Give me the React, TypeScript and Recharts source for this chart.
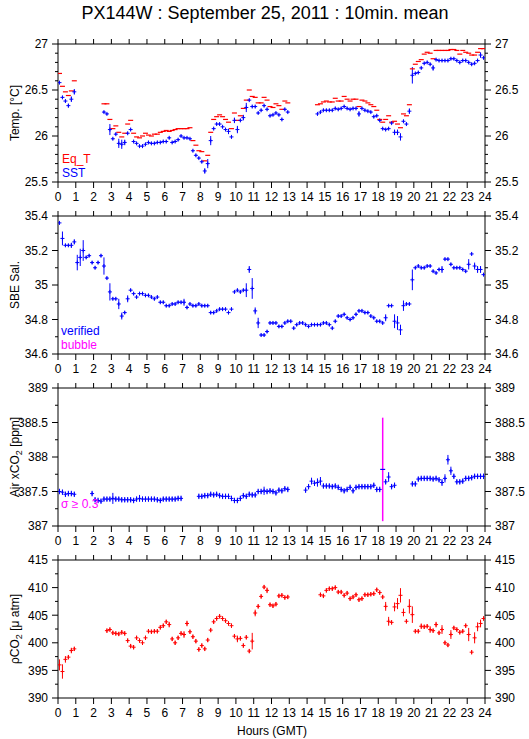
import React from 'react';
import { ScatterChart, Scatter, XAxis, YAxis, ErrorBar } from 'recharts';

const FONT = '"Liberation Sans", Arial, Helvetica, sans-serif';
const BLUE = '#0000ff';
const RED = '#ff0000';
const MAGENTA = '#ff00ff';

const HOURS = [0, 1, 2, 3, 4, 5, 6, 7, 8, 9, 10, 11, 12, 13, 14, 15, 16, 17, 18, 19, 20, 21, 22, 23, 24];

// 10 min means, slot i = hour i/6 .. (i+1)/6, null = no data
const SST = [
  26.58, 26.42, 26.38, 26.33, 26.40, 26.48, null, null, null, null, null, null,
  null, null, null, 26.26, 26.24, 26.07, 25.97, 26.02, 25.92, 25.91, 25.93, 26.03,
  26.07, 25.94, 25.92, 25.89, 25.89, 25.91, 25.93, 25.92, 25.92, 25.93, 25.93, 25.94,
  25.94, 25.98, 25.93, 25.94, 25.96, 26.00, 25.98, 25.98, 25.97, 25.84, 25.79, 25.76,
  25.72, 25.62, 25.70, 25.95, 26.08, 26.13, 26.13, 26.10, 26.07, 26.05, 25.99, 26.17,
  26.07, 26.17, 26.20, 26.31, 26.39, 26.32, 26.32, 26.25, 26.28, 26.33, 26.29, 26.22,
  26.23, 26.25, 26.23, 26.18, 26.29, 26.26, null, null, null, null, null, null,
  null, null, null, 26.24, 26.26, 26.28, 26.28, 26.28, 26.28, 26.30, 26.29, 26.30,
  26.32, 26.30, 26.29, 26.30, 26.30, 26.24, 26.30, 26.28, 26.27, 26.26, 26.21, 26.22,
  26.17, 26.08, 26.07, 26.08, 26.14, 26.04, 26.04, 25.99, 26.16, 26.13, 26.27, 26.66,
  26.68, 26.69, 26.74, 26.79, 26.80, 26.78, 26.74, 26.83, 26.82, 26.82, 26.82, 26.82,
  26.84, 26.84, 26.82, 26.80, 26.82, 26.82, 26.80, 26.78, 26.79, 26.82, 26.88, 26.85,
];
const SST_ERR: Record<number, number> = {
  3: 0.02, 4: 0.03, 5: 0.03, 17: 0.06, 20: 0.05, 21: 0.05, 22: 0.03, 49: 0.03, 50: 0.05, 51: 0.05,
  57: 0.03, 59: 0.03, 60: 0.04, 62: 0.03, 63: 0.05, 101: 0.03, 113: 0.03, 114: 0.03, 115: 0.04,
  118: 0.03, 119: 0.09, 126: 0.03, 142: 0.03,
};

const EQ_T = [
  26.68, 26.54, 26.48, 26.44, 26.49, 26.60, null, null, null, null, null, null,
  null, null, null, 26.35, 26.35, 26.18, 26.08, 26.11, 26.04, 25.99, 26.03, 26.13,
  26.17, 26.03, 25.99, 25.98, 26.00, 26.03, 26.01, 26.00, 26.02, 26.02, 26.04, 26.05,
  26.06, 26.05, 26.06, 26.07, 26.08, 26.08, 26.08, 26.08, 26.09, 25.95, 25.90, 25.84,
  25.83, 25.73, 25.79, 26.04, 26.18, 26.21, 26.23, 26.21, 26.18, 26.15, 26.08, 26.25,
  26.17, 26.22, 26.30, 26.39, 26.50, 26.43, 26.42, 26.36, 26.36, 26.42, 26.39, 26.32,
  26.31, 26.35, 26.33, 26.29, 26.38, 26.36, null, null, null, null, null, null,
  null, null, null, 26.34, 26.35, 26.37, 26.38, 26.37, 26.37, 26.41, 26.38, 26.38,
  26.43, 26.40, 26.38, 26.40, 26.40, 26.32, 26.39, 26.38, 26.36, 26.34, 26.32, 26.28,
  26.18, 26.15, 26.18, 26.22, 26.15, 26.16, 26.13, 26.09, 26.24, 26.22, 26.34, 26.73,
  26.78, 26.81, 26.83, 26.89, 26.91, 26.90, 26.84, 26.93, 26.93, 26.93, 26.93, 26.93,
  26.94, 26.94, 26.93, 26.89, 26.93, 26.91, 26.90, 26.88, 26.88, 26.91, 26.95, 26.95,
];

const SAL = [
  35.36, 35.27, 35.23, 35.23, 35.23, 35.25, 35.13, 35.16, 35.20, 35.16, 35.17, 35.13,
  35.10, 35.13, 35.17, 35.11, 35.04, 34.96, 34.92, 34.92, 34.89, 34.82, 34.84, 34.92,
  34.97, 34.95, 34.93, 34.95, 34.95, 34.94, 34.94, 34.93, 34.92, 34.93, 34.90, 34.90,
  34.88, 34.88, 34.89, 34.89, 34.90, 34.90, 34.90, 34.87, 34.89, 34.88, 34.88, 34.89,
  34.88, 34.88, 34.88, 34.84, 34.84, 34.85, 34.86, 34.86, 34.86, 34.84, 34.86, 34.96,
  34.97, 34.96, 34.97, 34.97, 35.09, 34.98, 34.85, 34.78, 34.71, 34.71, 34.73, 34.78,
  34.78, 34.78, 34.76, 34.76, 34.78, 34.79, 34.79, 34.75, 34.77, 34.78, 34.78, 34.77,
  34.76, 34.77, 34.77, 34.77, 34.77, 34.78, 34.78, 34.77, 34.75, 34.79, 34.82, 34.82,
  34.83, 34.81, 34.80, 34.81, 34.83, 34.85, 34.85, 34.84, 34.84, 34.82, 34.81, 34.79,
  34.79, 34.78, 34.81, 34.88, 34.88, 34.79, 34.78, 34.74, 34.88, 34.89, 34.89, 35.03,
  35.10, 35.11, 35.10, 35.10, 35.11, 35.11, 35.08, 35.07, 35.09, 35.09, 35.15, 35.15,
  35.12, 35.10, 35.10, 35.10, 35.09, 35.08, 35.12, 35.18, 35.11, 35.09, 35.09, 35.06,
];
const SAL_ERR: Record<number, number> = {
  1: 0.04, 4: 0.015, 5: 0.015, 6: 0.045, 7: 0.05, 8: 0.06, 15: 0.05, 17: 0.05, 20: 0.03, 21: 0.02,
  23: 0.02, 42: 0.02, 63: 0.04, 64: 0.02, 65: 0.06, 66: 0.02, 67: 0.03, 110: 0.02, 113: 0.04,
  114: 0.04, 115: 0.03, 116: 0.03, 119: 0.06, 129: 0.02, 138: 0.03, 140: 0.02, 141: 0.02, 142: 0.02,
};

const XCO2 = [
  387.50, 387.49, 387.46, 387.47, 387.47, 387.46, null, null, null, null, null, 387.47,
  387.38, 387.37, 387.36, 387.39, 387.39, 387.39, 387.40, 387.39, 387.39, 387.38, 387.38, 387.38,
  387.38, 387.37, 387.39, 387.40, 387.39, 387.39, 387.39, 387.39, 387.39, 387.38, 387.37, 387.39,
  387.39, 387.39, 387.39, 387.39, 387.40, 387.40, null, null, null, null, null, 387.43,
  387.43, 387.44, 387.44, 387.46, 387.45, 387.46, 387.44, 387.43, 387.43, 387.43, 387.40, 387.37,
  387.37, 387.40, 387.44, 387.43, 387.46, 387.45, 387.45, 387.50, 387.50, 387.51, 387.50, 387.51,
  387.50, 387.48, 387.52, 387.51, 387.54, 387.53, null, null, null, null, null, 387.52,
  387.57, 387.65, 387.62, 387.63, 387.65, 387.58, 387.58, 387.58, 387.57, 387.58, 387.56, 387.53,
  387.51, 387.53, 387.56, 387.51, 387.56, 387.57, 387.57, 387.57, 387.57, 387.57, 387.59, 387.53,
  387.53, null, 387.64, 387.71, 387.57, 387.59, null, null, null, null, null, 387.61,
  387.61, 387.68, 387.69, 387.69, 387.69, 387.69, 387.68, 387.69, 387.67, 387.63, 387.69, 387.96,
  387.80, 387.72, 387.64, 387.64, 387.65, 387.69, 387.69, 387.70, 387.72, 387.72, 387.72, 387.72,
];
const XCO2_ERR: Record<number, number> = {
  18: 0.08, 27: 0.05, 69: 0.06, 85: 0.05, 87: 0.06, 88: 0.06, 111: 0.07, 129: 0.05, 130: 0.06,
  131: 0.07, 132: 0.06,
};
// sigma >= 0.3 flagged sample
const XCO2_FLAG_SLOTS = [109];
const XCO2_FLAG_VALUES = [387.82];
const XCO2_FLAG_ERR = [0.75];

const PCO2 = [
  396.0, 394.8, 397.0, 397.4, 398.6, 398.9, null, null, null, null, null, null,
  null, null, null, null, 402.2, 402.4, 401.8, 401.7, 401.6, 401.9, 401.7, 400.4,
  399.4, 399.2, 400.9, 400.4, 400.0, 400.9, 402.1, 402.0, 402.1, 402.1, 402.8, 403.1,
  403.8, 403.3, 400.7, 400.0, 400.9, 401.7, 401.5, 403.5, 402.0, 401.1, 400.3, 398.8,
  399.5, 398.9, 400.5, 402.3, 403.8, 404.4, 404.8, 404.4, 404.0, 403.5, 403.1, 401.2,
  400.7, 400.8, 399.5, 401.0, 398.5, 400.3, 405.4, 406.6, 408.4, 410.1, 409.5, 406.9,
  406.7, 407.0, 408.5, 408.6, 408.2, 408.3, null, null, null, null, null, null,
  null, null, null, null, 408.7, 408.5, 409.5, 409.8, 409.8, 410.0, 409.2, 409.2,
  408.6, 409.0, 408.0, 408.3, 408.7, 407.8, 408.0, 408.7, 408.7, 408.8, 408.9, 409.6,
  409.1, 408.3, 406.6, 403.9, 403.7, 406.5, 407.1, 408.6, 405.5, 403.9, 406.6, 405.1,
  402.1, 402.1, 403.0, 402.9, 403.0, 402.4, 402.2, 403.3, 401.8, 402.4, 400.0, 399.6,
  401.5, 402.7, 402.4, 401.9, 402.1, 403.1, 401.5, 398.3, 400.9, 402.9, 403.5, 404.4,
];
const PCO2_ERR: Record<number, number> = {
  0: 1.0, 1: 1.3, 2: 0.6, 4: 0.5, 37: 0.5, 42: 0.6, 43: 0.5, 60: 0.6, 65: 1.5, 66: 0.6, 70: 0.5,
  110: 0.8, 111: 0.8, 113: 0.8, 114: 1.0, 115: 1.3, 116: 0.7, 118: 1.3, 119: 1.5, 122: 0.5,
  125: 0.6, 127: 0.5, 129: 0.8, 132: 0.8, 138: 1.2, 140: 1.0, 141: 0.8, 142: 0.7,
};

const TEMP_TICKS = [25.5, 25.6, 25.7, 25.8, 25.9, 26, 26.1, 26.2, 26.3, 26.4, 26.5, 26.6, 26.7, 26.8, 26.9, 27];
const TEMP_MAJOR = [25.5, 26, 26.5, 27];
const SAL_TICKS = [34.6, 34.7, 34.8, 34.9, 35, 35.1, 35.2, 35.3, 35.4];
const SAL_MAJOR = [34.6, 34.8, 35, 35.2, 35.4];
const XCO2_TICKS = [387, 387.25, 387.5, 387.75, 388, 388.25, 388.5, 388.75, 389];
const XCO2_MAJOR = [387, 387.5, 388, 388.5, 389];
const PCO2_TICKS = [390, 392.5, 395, 397.5, 400, 402.5, 405, 407.5, 410, 412.5, 415];
const PCO2_MAJOR = [390, 395, 400, 405, 410, 415];

const slotHour = (i: number) => (i + 0.5) / 6;

const toPoints = (vals: (number | null)[], err: Record<number, number>, def: number) =>
  vals.flatMap((v, i) => (v == null ? [] : [{ x: slotHour(i), y: v, e: err[i] ?? def }]));

const plus = (color: string) => (p: any) => (
  <g stroke={color} strokeWidth={1}>
    <line x1={p.cx - 2} x2={p.cx + 2} y1={p.cy} y2={p.cy} />
    <line x1={p.cx} x2={p.cx} y1={p.cy - 2} y2={p.cy + 2} />
  </g>
);

const dash = (color: string) => (p: any) => (
  <line x1={p.cx - 2.5} x2={p.cx + 2.5} y1={p.cy} y2={p.cy} stroke={color} strokeWidth={1.2} />
);

const yTick = (side: 'left' | 'right', majors: number[]) => (p: any) => {
  const v = p.payload.value;
  const major = majors.some((m) => Math.abs(m - v) < 1e-6);
  const len = major ? 6 : 3;
  const dir = side === 'left' ? -1 : 1;
  return (
    <g>
      <line x1={p.x} x2={p.x + dir * len} y1={p.y} y2={p.y} stroke="#000" />
      {major && (
        <text x={p.x + dir * (len + 4)} y={p.y} dy="0.36em" textAnchor={side === 'left' ? 'end' : 'start'}
          fontSize={12} fontFamily={FONT} fill="#000">{String(v)}</text>
      )}
    </g>
  );
};

function Panel({ top, domain, ticks, majors, children }: any) {
  return (
    <div style={{ position: 'absolute', left: 0, top, width: 529, height: 172 }}>
      <ScatterChart width={529} height={172} margin={{ top: 0, right: 0, bottom: 0, left: 0 }}>
        <XAxis xAxisId="b" type="number" dataKey="x" domain={[0, 24]} ticks={HOURS} interval={0} allowDataOverflow
          height={24} tickSize={6} tickMargin={4} stroke="#000"
          tick={{ fill: '#000', fontSize: 12, fontFamily: FONT }} />
        <XAxis xAxisId="t" orientation="top" type="number" dataKey="x" domain={[0, 24]} ticks={HOURS} interval={0}
          allowDataOverflow height={10} tickSize={5} tickFormatter={() => ''} stroke="#000" />
        <YAxis yAxisId="l" type="number" dataKey="y" domain={domain} ticks={ticks} interval={0} allowDataOverflow
          width={58} tickSize={0} tickMargin={0} tickLine={false} tick={yTick('left', majors)} stroke="#000" />
        <YAxis yAxisId="r" orientation="right" type="number" dataKey="y" domain={domain} ticks={ticks} interval={0}
          allowDataOverflow width={44} tickSize={0} tickMargin={0} tickLine={false} tick={yTick('right', majors)}
          stroke="#000" />
        {children}
      </ScatterChart>
    </div>
  );
}

export default function App() {
  const sst = toPoints(SST, SST_ERR, 0.012);
  const eqt = toPoints(EQ_T, {}, 0);
  const sal = toPoints(SAL, SAL_ERR, 0.008);
  const xco2 = toPoints(XCO2, XCO2_ERR, 0.04);
  const flagged = XCO2_FLAG_SLOTS.map((s, i) => ({ x: slotHour(s), y: XCO2_FLAG_VALUES[i], e: XCO2_FLAG_ERR[i] }));
  const pco2 = toPoints(PCO2, PCO2_ERR, 0.4);

  return (
    <div style={{ position: 'absolute', left: 0, top: 0, width: 529, height: 739, background: '#fff' }}>
      <Panel top={34} domain={[25.5, 27]} ticks={TEMP_TICKS} majors={TEMP_MAJOR}>
        <Scatter xAxisId="b" yAxisId="l" data={eqt} shape={dash(RED)} isAnimationActive={false} />
        <Scatter xAxisId="b" yAxisId="l" data={sst} shape={plus(BLUE)} isAnimationActive={false}>
          <ErrorBar dataKey="e" direction="y" width={0} stroke={BLUE} strokeWidth={1} isAnimationActive={false} />
        </Scatter>
      </Panel>
      <Panel top={206} domain={[34.6, 35.4]} ticks={SAL_TICKS} majors={SAL_MAJOR}>
        <Scatter xAxisId="b" yAxisId="l" data={sal} shape={plus(BLUE)} isAnimationActive={false}>
          <ErrorBar dataKey="e" direction="y" width={0} stroke={BLUE} strokeWidth={1} isAnimationActive={false} />
        </Scatter>
      </Panel>
      <Panel top={378} domain={[387, 389]} ticks={XCO2_TICKS} majors={XCO2_MAJOR}>
        <Scatter xAxisId="b" yAxisId="l" data={xco2} shape={plus(BLUE)} isAnimationActive={false}>
          <ErrorBar dataKey="e" direction="y" width={0} stroke={BLUE} strokeWidth={1} isAnimationActive={false} />
        </Scatter>
        <Scatter xAxisId="b" yAxisId="l" data={flagged} shape={dash(BLUE)} isAnimationActive={false}>
          <ErrorBar dataKey="e" direction="y" width={0} stroke={MAGENTA} strokeWidth={1.5} isAnimationActive={false} />
        </Scatter>
      </Panel>
      <Panel top={550} domain={[390, 415]} ticks={PCO2_TICKS} majors={PCO2_MAJOR}>
        <Scatter xAxisId="b" yAxisId="l" data={pco2} shape={plus(RED)} isAnimationActive={false}>
          <ErrorBar dataKey="e" direction="y" width={0} stroke={RED} strokeWidth={1} isAnimationActive={false} />
        </Scatter>
      </Panel>

      <svg width={529} height={739} style={{ position: 'absolute', left: 0, top: 0, pointerEvents: 'none' }}
        fontFamily={FONT}>
        <text x={265} y={19} textAnchor="middle" fontSize={18}>PX144W : September 25, 2011 : 10min. mean</text>

        <text transform="translate(19,113) rotate(-90)" textAnchor="middle" fontSize={12}>Temp. [°C]</text>
        <text transform="translate(19,285) rotate(-90)" textAnchor="middle" fontSize={12}>SBE Sal.</text>
        <text transform="translate(19,457) rotate(-90)" textAnchor="middle" fontSize={12}>
          Air xCO<tspan fontSize={9} dy={3}>2</tspan><tspan dy={-3}> [ppm]</tspan>
        </text>
        <text transform="translate(19,629) rotate(-90)" textAnchor="middle" fontSize={12}>
          ρCO<tspan fontSize={9} dy={3}>2</tspan><tspan dy={-3}> [μ atm]</tspan>
        </text>

        <text x={62} y={163} fontSize={12} fill={RED}>Eq_T</text>
        <text x={62} y={177} fontSize={12} fill={BLUE}>SST</text>
        <text x={61} y={335} fontSize={12} fill={BLUE}>verified</text>
        <text x={61} y={349} fontSize={12} fill={MAGENTA}>bubble</text>
        <text x={61} y={508} fontSize={12} fill={MAGENTA}>σ ≥ 0.3</text>

        <text x={272} y={735} textAnchor="middle" fontSize={12}>Hours (GMT)</text>
      </svg>
    </div>
  );
}
